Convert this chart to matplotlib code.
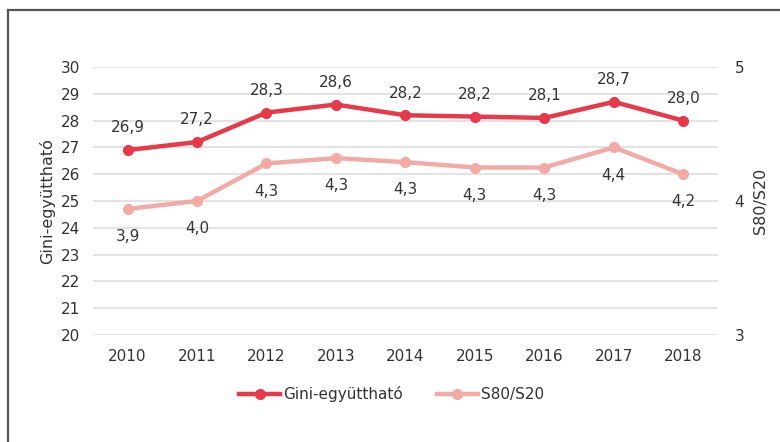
import matplotlib.pyplot as plt
from matplotlib.lines import Line2D

# Data
years = ["2010", "2011", "2012", "2013", "2014", "2015", "2016", "2017", "2018"]
gini = [26.9, 27.2, 28.3, 28.6, 28.2, 28.15, 28.1, 28.7, 28.0]
gini_labels = ["26,9", "27,2", "28,3", "28,6", "28,2", "28,2", "28,1", "28,7", "28,0"]
s80s20 = [3.94, 4.0, 4.28, 4.32, 4.29, 4.25, 4.25, 4.4, 4.2]
s80s20_labels = ["3,9", "4,0", "4,3", "4,3", "4,3", "4,3", "4,3", "4,4", "4,2"]

red = "#e8394a"
pink = "#f4aaa4"
txt = "#333333"

plt.rcParams["font.family"] = "DejaVu Sans"
plt.rcParams["font.size"] = 11

fig = plt.figure(figsize=(7.8, 4.42), dpi=100)
ax = fig.add_axes([0.119, 0.2421, 0.8015, 0.6063])
ax2 = ax.twinx()

x = list(range(len(years)))

# S80/S20 on right axis
ax2.plot(x, s80s20, color=pink, lw=3.2, marker="o", ms=7, zorder=2)
for xi, v, lab in zip(x, s80s20, s80s20_labels):
    ax2.annotate(lab, (xi, v), xytext=(0, -20), textcoords="offset points",
                 ha="center", va="center", color=txt)
ax2.set_ylim(3, 5)
ax2.set_yticks([3, 4, 5])
ax2.set_ylabel("S80/S20", color=txt, fontsize=11.5, labelpad=6)

# Gini on left axis (drawn on top)
ax.set_zorder(ax2.get_zorder() + 1)
ax.patch.set_visible(False)
ax.plot(x, gini, color=red, lw=3.2, marker="o", ms=7, zorder=3)
for xi, v, lab in zip(x, gini, gini_labels):
    ax.annotate(lab, (xi, v), xytext=(0, 16), textcoords="offset points",
                ha="center", va="center", color=txt)
ax.set_ylim(20, 30)
ax.set_yticks(range(20, 31))
ax.set_xlim(-0.5, len(years) - 0.5)
ax.set_xticks(x)
ax.set_xticklabels(years)
ax.set_ylabel("Gini-együttható", color=txt, fontsize=11.5, labelpad=4)

ax2.grid(False)
for yv in range(20, 31):
    ax2.axhline(3 + (yv - 20) / 5, color="#dedede", lw=1.2, zorder=0)

for a in (ax, ax2):
    for s in a.spines.values():
        s.set_visible(False)
    a.tick_params(length=0, colors=txt, labelsize=11)
ax.tick_params(axis="x", pad=10)
ax.tick_params(axis="y", pad=9)
ax2.tick_params(axis="y", pad=12)

handles = [
    Line2D([], [], color=red, lw=3.2, marker="o", ms=7),
    Line2D([], [], color=pink, lw=3.2, marker="o", ms=7),
]
fig.legend(handles, ["Gini-együttható", "S80/S20"], loc="center",
           bbox_to_anchor=(0.502, 0.108), ncol=2, frameon=False,
           handlelength=2.7, handletextpad=0.2, columnspacing=2.2,
           labelcolor=txt, fontsize=11)

# outer frame (left and top edges)
fig.add_artist(Line2D([8 / 780, 8 / 780], [0, 1 - 10 / 442], color="#555555",
                      lw=1.6, transform=fig.transFigure))
fig.add_artist(Line2D([8 / 780, 1], [1 - 10 / 442, 1 - 10 / 442], color="#555555",
                      lw=1.6, transform=fig.transFigure))

fig.savefig("out.png", dpi=100)
